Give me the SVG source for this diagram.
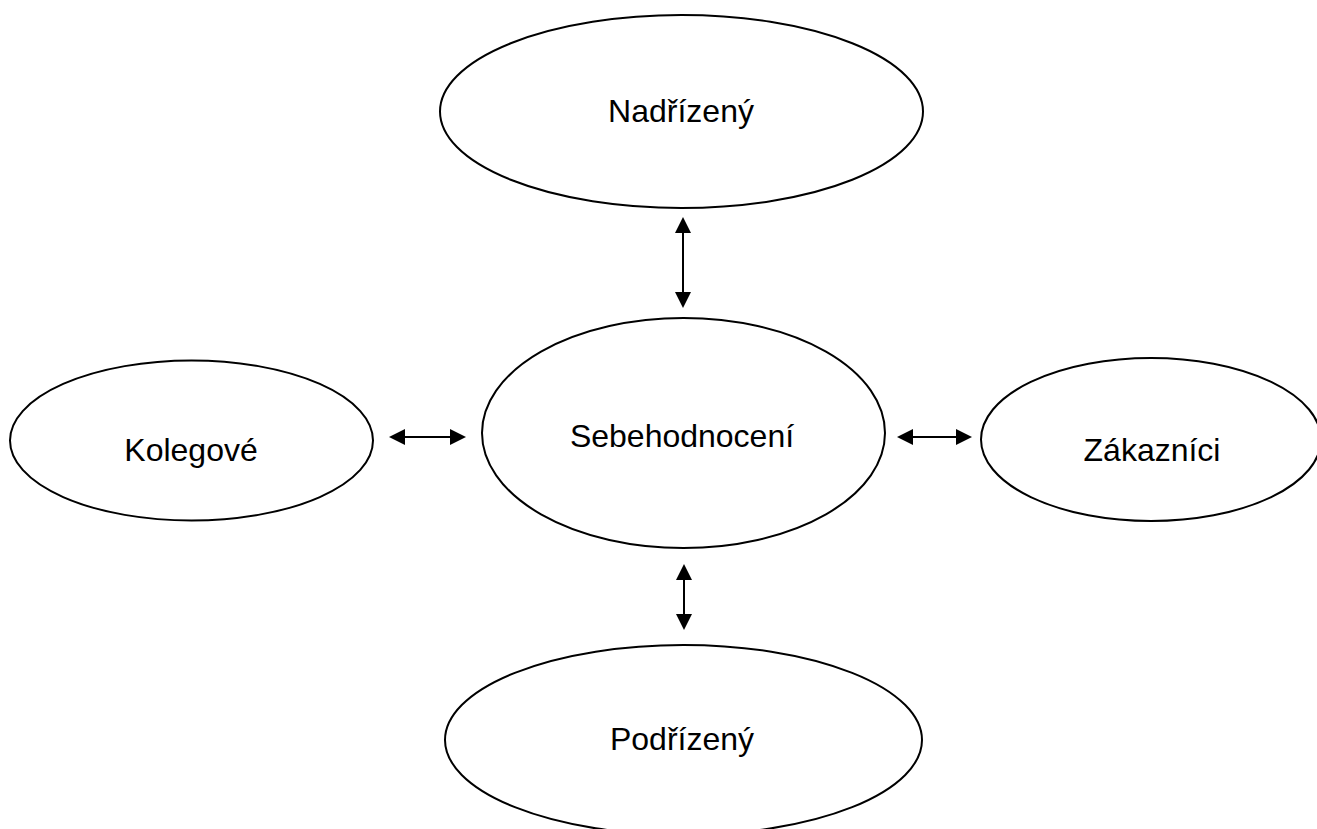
<svg xmlns="http://www.w3.org/2000/svg" width="1317" height="829" viewBox="0 0 1317 829">
<style>
.node ellipse{fill:#fff;stroke:#000;stroke-width:2}
.node text{font-family:"Liberation Sans",Arial,sans-serif;font-size:32px;fill:#000;text-anchor:middle}
.conn line{stroke:#000;stroke-width:2}
</style>
<defs>
<marker id="ah" viewBox="0 0 16 16" markerWidth="16" markerHeight="16" refX="6" refY="8" markerUnits="userSpaceOnUse" orient="auto-start-reverse">
<path d="M0,0 L16,8 L0,16 z" fill="#000"/>
</marker>
</defs>
<rect width="1317" height="829" fill="#fff"/>
<g id="nadrizeny" class="node">
<ellipse cx="681.5" cy="111.5" rx="241.5" ry="96.5"/>
<text x="681" y="122">Nadřízený</text>
</g>
<g id="sebehodnoceni" class="node">
<ellipse cx="683.5" cy="433" rx="201.5" ry="115"/>
<text x="682" y="447">Sebehodnocení</text>
</g>
<g id="kolegove" class="node">
<ellipse cx="191.5" cy="440.5" rx="181.5" ry="80"/>
<text x="191" y="461">Kolegové</text>
</g>
<g id="zakaznici" class="node">
<ellipse cx="1151" cy="439.5" rx="170" ry="81.5"/>
<text x="1152" y="461">Zákazníci</text>
</g>
<g id="podrizeny" class="node">
<ellipse cx="683.5" cy="740" rx="238.5" ry="95"/>
<text x="682" y="750">Podřízený</text>
</g>
<g id="connectors" class="conn">
<line x1="399" y1="437" x2="456" y2="437" marker-start="url(#ah)" marker-end="url(#ah)"/>
<line x1="907" y1="437" x2="962" y2="437" marker-start="url(#ah)" marker-end="url(#ah)"/>
<line x1="683" y1="227" x2="683" y2="298" marker-start="url(#ah)" marker-end="url(#ah)"/>
<line x1="684" y1="574" x2="684" y2="620" marker-start="url(#ah)" marker-end="url(#ah)"/>
</g>
</svg>
